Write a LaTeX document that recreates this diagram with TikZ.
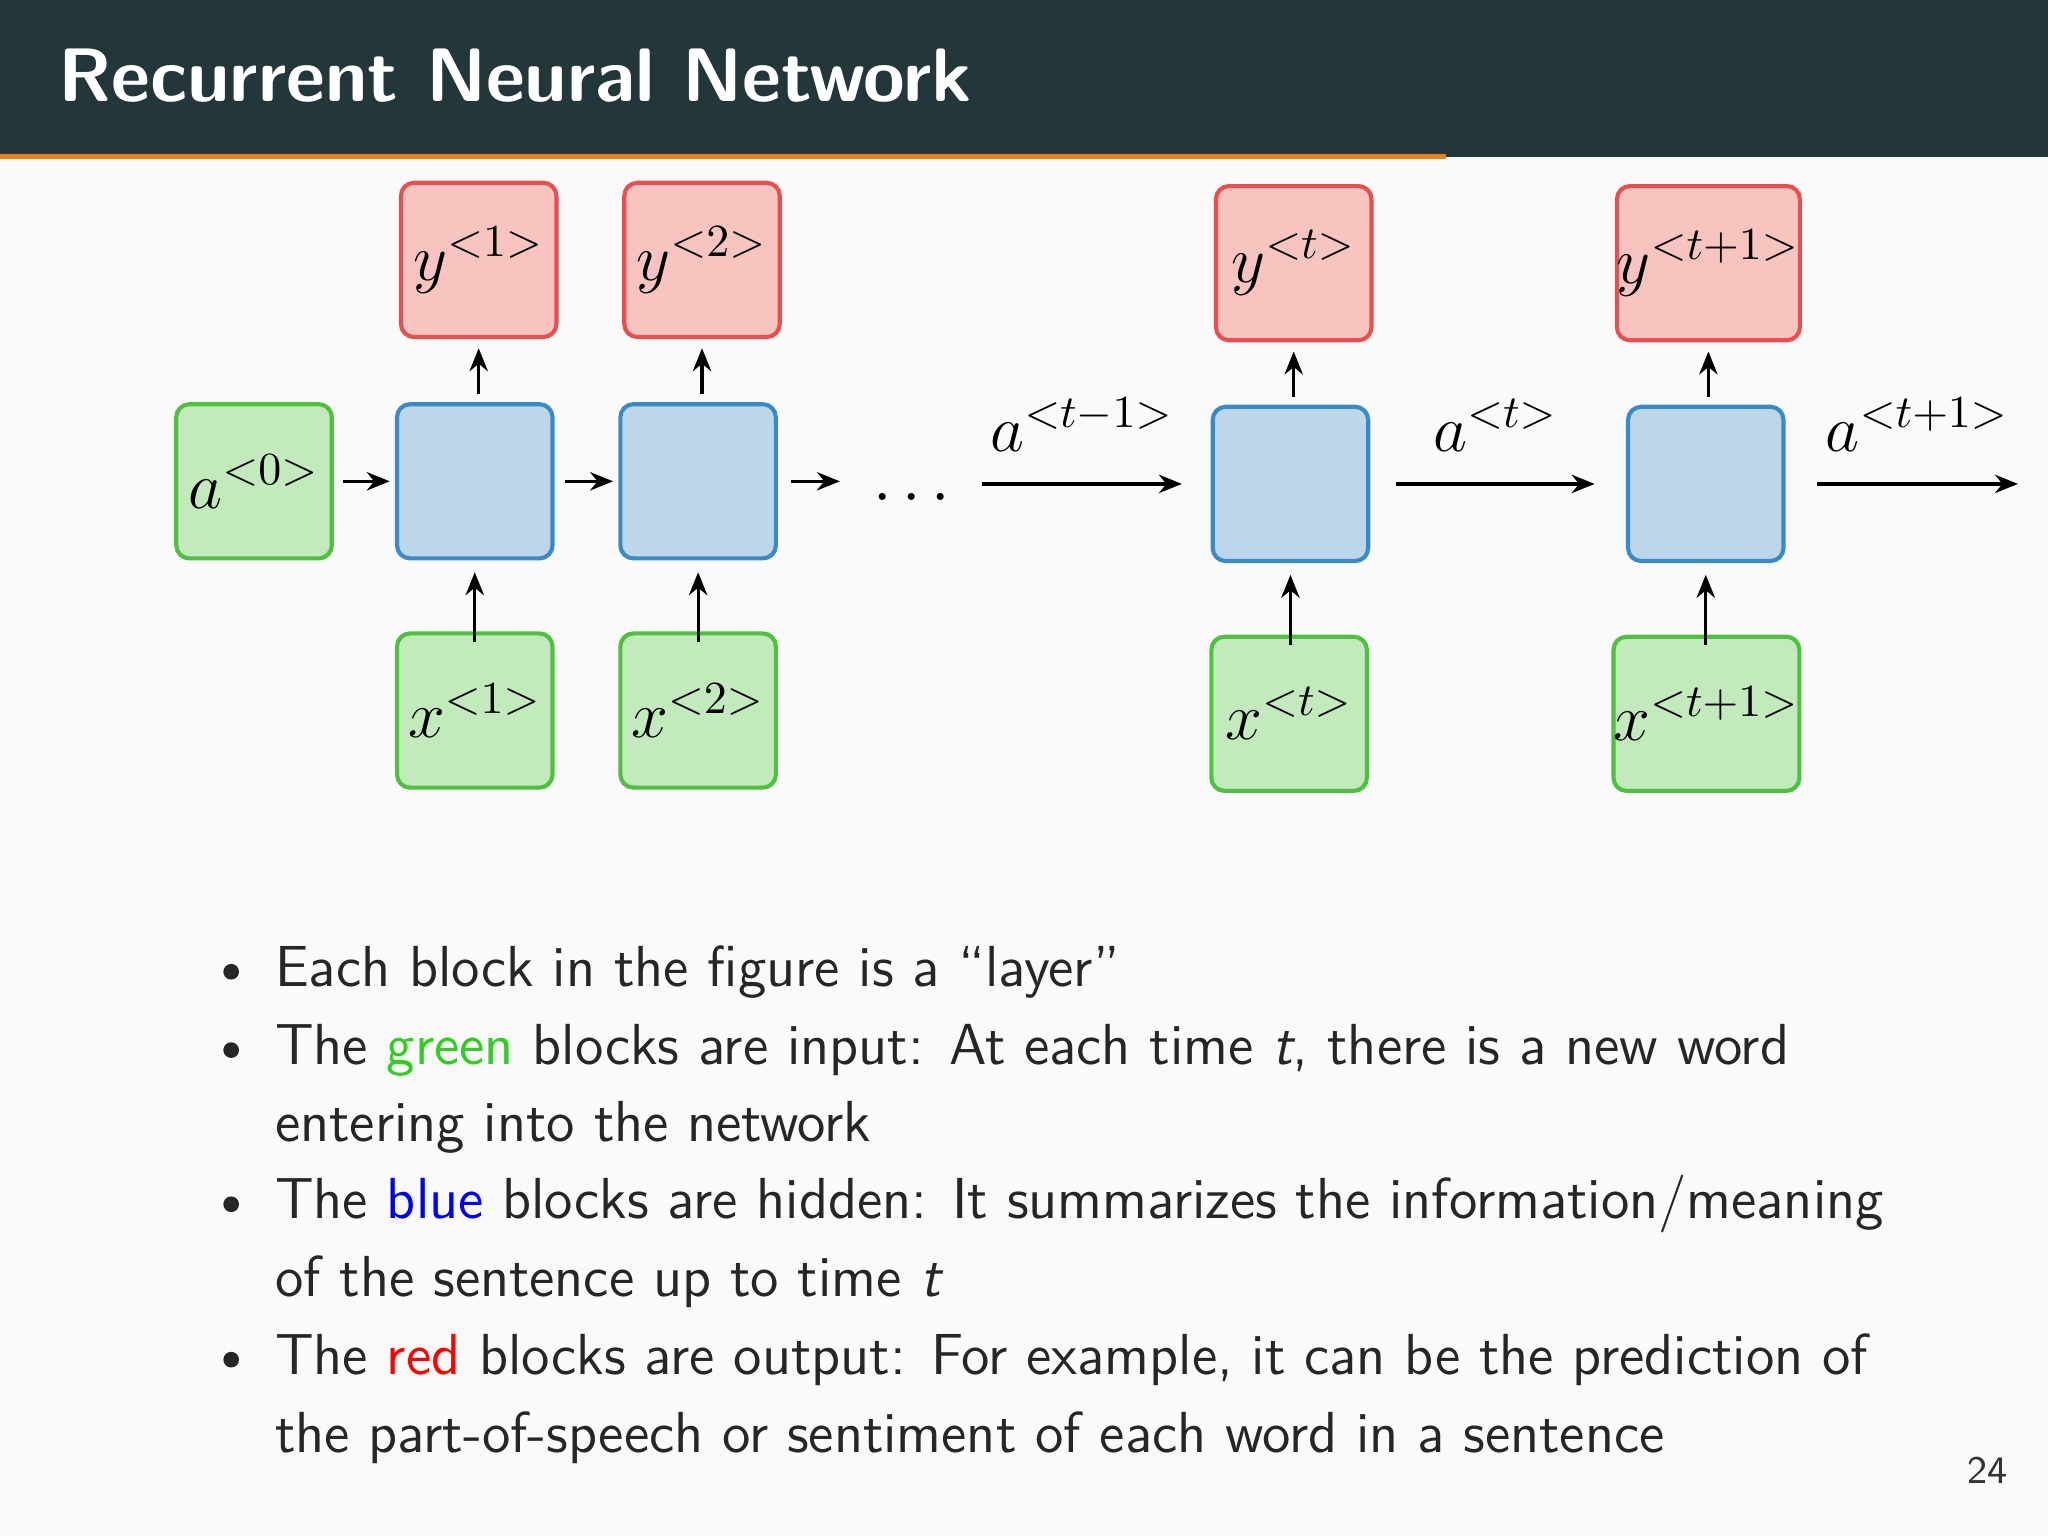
\documentclass[tikz,border=0pt]{standalone}
\renewcommand\familydefault{\sfdefault}
\usetikzlibrary{arrows.meta}
\definecolor{hdr}{HTML}{23373B}
\definecolor{org}{HTML}{EB811B}
\definecolor{bg}{HTML}{FAFAFA}
\definecolor{rf}{HTML}{F8C4C0}\definecolor{rd}{HTML}{E85050}
\definecolor{bf}{HTML}{BDD7EA}\definecolor{bd}{HTML}{3A8AC8}
\definecolor{gf}{HTML}{C3EABD}\definecolor{gd}{HTML}{50C040}
\definecolor{tgreen}{HTML}{33CC22}
\begin{document}
\begin{tikzpicture}[x=0.01cm,y=-0.01cm,
 box/.style={draw,line width=0.9pt,rounded corners=0.1cm,minimum width=1.19cm,minimum height=1.18cm,inner sep=0pt,font=\fontsize{14}{16}\selectfont},
 red/.style={box,fill=rf,draw=rd},
 blu/.style={box,fill=bf,draw=bd},
 grn/.style={box,fill=gf,draw=gd},
 wide/.style={minimum width=1.39cm},
 ar/.style={-{Stealth[length=5pt,width=4pt]},line width=0.7pt},
 lab/.style={above=0.12cm,font=\fontsize{14}{16}\selectfont},
 txt/.style={anchor=base west,inner sep=0pt,font=\fontsize{12.6}{15}\selectfont,text=black!85}]
\useasboundingbox (0,0) rectangle (1568,1176);
\fill[bg] (0,0) rectangle (1568,1176);
\fill[hdr] (0,0) rectangle (1568,120);
\draw[org,line width=1.2pt] (0,120) -- (1107,120);
\node[anchor=base west,text=white,font=\fontsize{16.5}{18}\bfseries\selectfont,inner sep=0pt] (title) at (44,78) {Recurrent Neural Network};
% boxes
\node[red] (y1) at (366.5,199) {$y^{<1>}$};
\node[red] (y2) at (537.5,199) {$y^{<2>}$};
\node[red] (yt) at (990.5,201.5) {$y^{<t>}$};
\node[red,wide] (yt1) at (1308,201.5) {$y^{<t+1>}$};
\node[blu] (h1) at (363.5,368.5) {};
\node[blu] (h2) at (534.5,368.5) {};
\node[blu] (ht) at (988,370.5) {};
\node[blu] (ht1) at (1306,370.5) {};
\node[grn] (a0) at (194.5,368.5) {$a^{<0>}$};
\node[grn] (x1) at (363.5,544) {$x^{<1>}$};
\node[grn] (x2) at (534.5,544) {$x^{<2>}$};
\node[grn] (xt) at (987,546.5) {$x^{<t>}$};
\node[grn,wide] (xt1) at (1306.5,546.5) {$x^{<t+1>}$};
\node[font=\fontsize{14}{16}\selectfont] (dots) at (698,382) {$\cdots$};
\coordinate (c1) at (643,368.5);
\coordinate (c2) at (752,370.5);
\coordinate (c3) at (1545,370.5);
% arrows
\draw[ar] ([xshift=0.07cm]a0.east) -- ([xshift=-0.04cm]h1.west);
\draw[ar] ([xshift=0.08cm]h1.east) -- ([xshift=-0.04cm]h2.west);
\draw[ar] ([xshift=0.1cm]h2.east) -- (c1);
\draw[ar] (c2) -- node[lab]{$a^{<t-1>}$} ([xshift=-0.22cm]ht.west);
\draw[ar] ([xshift=0.2cm]ht.east) -- node[lab]{$a^{<t>}$} ([xshift=-0.24cm]ht1.west);
\draw[ar] ([xshift=0.24cm]ht1.east) -- node[lab]{$a^{<t+1>}$} (c3);
\foreach \h/\y/\x in {h1/y1/x1,h2/y2/x2,ht/yt/xt,ht1/yt1/xt1}{
 \draw[ar] ([yshift=0.06cm]\h.north -| \y.south) -- ([yshift=-0.07cm]\y.south);
 \draw[ar] ([yshift=-0.08cm]\x.north -| \h.south) -- ([yshift=-0.09cm]\h.south);
}
% bullets
\foreach \yy in {755,815,933,1052}{\fill[black!85] (177,\yy-11) circle (0.06cm);}
\node[txt] (l1) at (210,755) {Each block in the figure is a ``layer''};
\node[txt] (l2) at (210,815) {The \textcolor{tgreen}{green} blocks are input: At each time \textit{t}, there is a new word};
\node[txt] (l3) at (210,874) {entering into the network};
\node[txt] (l4) at (210,933) {The \textcolor{blue}{blue} blocks are hidden: It summarizes the information/meaning};
\node[txt] (l5) at (210,993) {of the sentence up to time \textit{t}};
\node[txt] (l6) at (210,1052) {The \textcolor{red}{red} blocks are output: For example, it can be the prediction of};
\node[txt] (l7) at (210,1112) {the part-of-speech or sentiment of each word in a sentence};
\node[anchor=base east,inner sep=0pt,font=\fontsize{8.5}{10}\selectfont,text=black!80] (pg) at (1538,1136) {24};
\end{tikzpicture}
\end{document}
